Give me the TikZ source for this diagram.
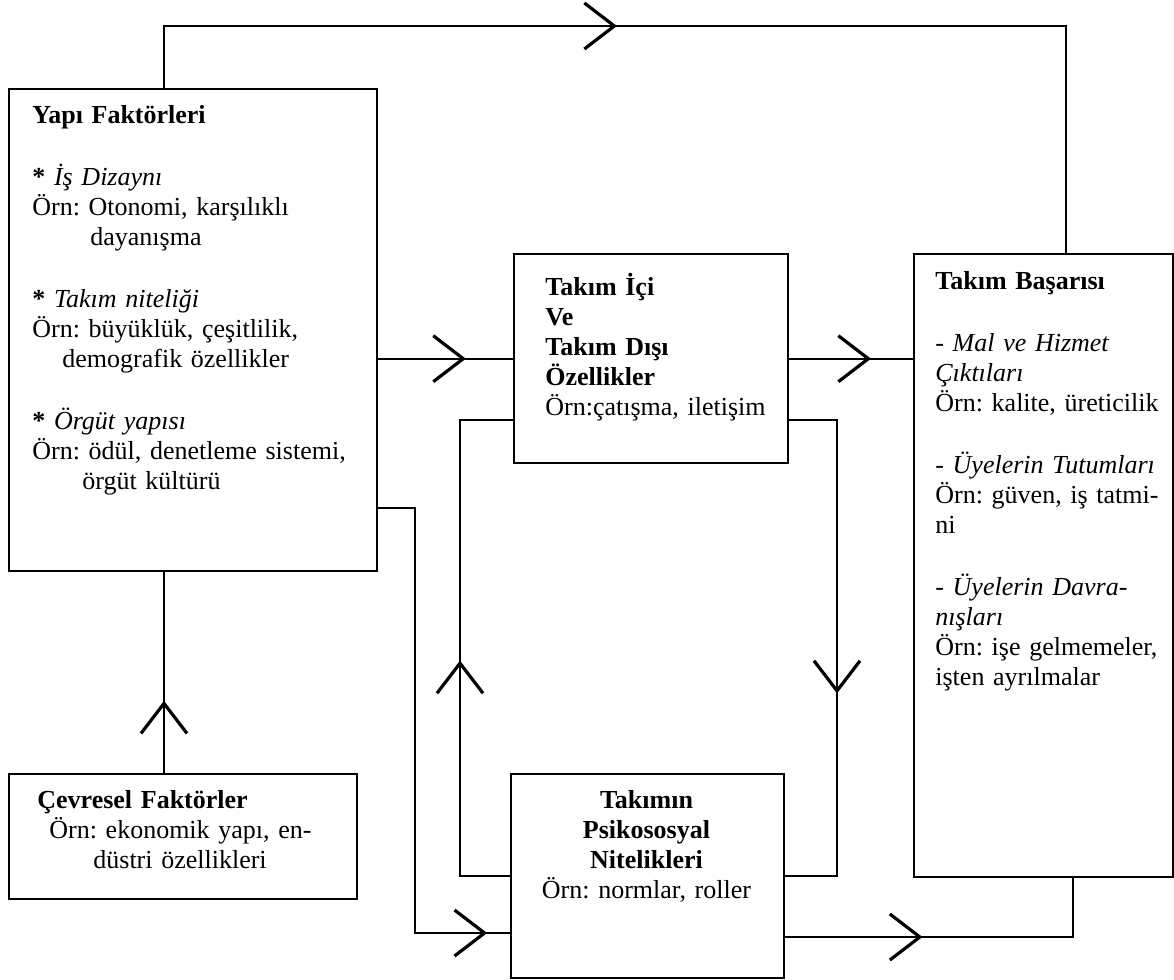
\documentclass[tikz,border=0pt]{standalone}
\usepackage{fontspec}
\setmainfont{Liberation Serif}
\usetikzlibrary{arrows.meta, decorations.markings}
\frenchspacing

\begin{document}
\begin{tikzpicture}[
  x=0.5pt, y=-0.5pt,
  box/.style={rectangle, draw, line width=1.2pt, anchor=north west, inner sep=0pt},
  txt/.style={font=\fontsize{13pt}{15pt}\selectfont, inner sep=0pt,
              text width=#1, align=left, anchor=base west},
  barbtip/.tip={Straight Barb[length=15pt, width=23pt, line width=1.6pt]},
  link/.style={line width=1pt},
  midarrow/.style={postaction={decorate, decoration={markings,
              mark=at position #1 with {\arrow{barbtip}}}}}
]
\useasboundingbox (0,0) rectangle (1174,980);

% boxes
\node[box, minimum width=184pt, minimum height=241pt]   (yapi)   at (8,88)    {};
\node[box, minimum width=137pt, minimum height=104.5pt] (ici)    at (513,253) {};
\node[box, minimum width=129.5pt, minimum height=311.5pt] (basari) at (913,253) {};
\node[box, minimum width=174pt, minimum height=62.5pt]  (cev)    at (8,773)   {};
\node[box, minimum width=136.5pt, minimum height=102pt] (psi)    at (510,773) {};

% texts
\node[txt=180pt] (yapitxt) at (32,123) {\textbf{Yapı Faktörleri}\\[16pt]
  \textbf{*} \textit{İş Dizaynı}\\
  Örn: Otonomi, karşılıklı\\
  \hspace*{29pt}dayanışma\\[16pt]
  \textbf{*} \textit{Takım niteliği}\\
  Örn: büyüklük, çeşitlilik,\\
  \hspace*{15pt}demografik özellikler\\[16pt]
  \textbf{*} \textit{Örgüt yapısı}\\
  Örn: ödül, denetleme sistemi,\\
  \hspace*{25pt}örgüt kültürü};
\node[txt=125pt] (icitxt) at (545,295) {\textbf{Takım İçi}\\
  \textbf{Ve}\\
  \textbf{Takım Dışı}\\
  \textbf{Özellikler}\\
  Örn:çatışma, iletişim};
\node[txt=125pt] (basaritxt) at (935,289) {\textbf{Takım Başarısı}\\[16pt]
  \textit{- Mal ve Hizmet}\\
  \textit{Çıktıları}\\
  Örn: kalite, üreticilik\\[16pt]
  \textit{- Üyelerin Tutumları}\\
  Örn: güven, iş tatmi-\\
  ni\\[16pt]
  \textit{- Üyelerin Davra-}\\
  \textit{nışları}\\
  Örn: işe gelmemeler,\\
  işten ayrılmalar};
\node[txt=165pt] (cevtxt) at (37,808) {\textbf{Çevresel Faktörler}\\
  \hspace*{6pt}Örn: ekonomik yapı, en-\\
  \hspace*{28pt}düstri özellikleri};
\node[txt=130pt, align=center, anchor=base] (psitxt) at (646.5,808) {\textbf{Takımın}\\
  \textbf{Psikososyal}\\
  \textbf{Nitelikleri}\\
  Örn: normlar, roller};

% connectors
\coordinate (topL) at (164,26);
\coordinate (topR) at (1066,26);
\coordinate (loopL) at (460,420);
\coordinate (loopR) at (837,420);
\coordinate (exitY) at (415,508);
\coordinate (entP) at (415,933);
\coordinate (outP) at (1073,937);

\draw[link, midarrow=0.4324] (topL |- yapi.north) -- (topL) -- (topR) -- (topR |- basari.north);
\draw[link, midarrow=0.65] (yapi.east |- ici.west) -- (ici.west);
\draw[link, midarrow=0.66] (ici.east) -- (ici.east -| basari.west);
\draw[link, midarrow=0.475] (psi.west) -- (loopL |- psi.west) -- (loopL) -- (loopL -| ici.west);
\draw[link, midarrow=0.578] (loopR -| ici.east) -- (loopR) -- (loopR |- psi.east) -- (psi.east);
\draw[link, midarrow=0.959] (exitY -| yapi.east) -- (exitY) -- (entP) -- (entP -| psi.west);
\draw[link, midarrow=0.396] (outP -| psi.east) -- (outP) -- (outP |- basari.south);
\draw[link, midarrow=0.36] (topL |- cev.north) -- (topL |- yapi.south);
\end{tikzpicture}
\end{document}
